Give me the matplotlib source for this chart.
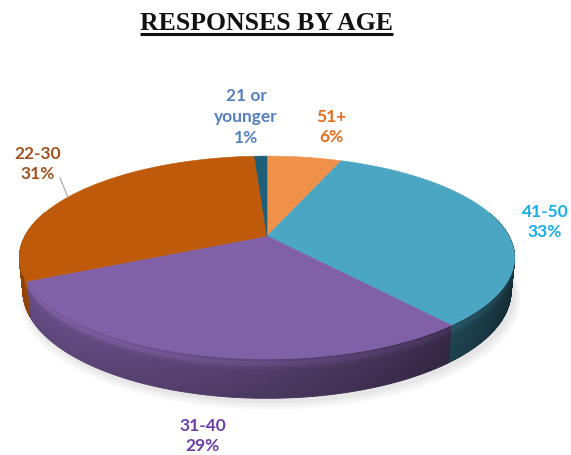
import numpy as np
import matplotlib
matplotlib.use("Agg")
import matplotlib.pyplot as plt
from matplotlib.collections import PolyCollection
from matplotlib.colors import to_rgb

# Survey responses by age group, clockwise from 12 o'clock
ages = ["51+", "41-50", "31-40", "22-30", "21 or\nyounger"]
shares = [6, 33, 29, 31, 1]
top_colors = ["#F0914A", "#4BA6C4", "#8060A6", "#BE5A0A", "#1F5E78"]
label_colors = ["#E46C1E", "#14AEEA", "#6B3FA6", "#A4521C", "#5580C0"]

# label anchor points (pixels)
label_pos = [(331, 127), (545, 222), (203, 436), (38, 164), (246, 117)]

W, H_PX = 571, 456
fig = plt.figure(figsize=(W / 100, H_PX / 100), dpi=100)
ax = fig.add_axes([0, 0, 1, 1])
ax.set_xlim(0, W)
ax.set_ylim(H_PX, 0)
ax.axis("off")

# simple perspective camera for the 3-D disc
CX, CY = 267, 237
K = 242
ELEV = np.radians(23.6)
DIST = 4.32
DEPTH = 0.15


def project(theta, z, r=1.0):
    x = r * np.sin(theta)
    y = r * np.cos(theta)
    sy = y * np.sin(ELEV) + z * np.cos(ELEV)
    d = y * np.cos(ELEV) - z * np.sin(ELEV)
    f = DIST / (DIST + d)
    return CX + K * x * f, CY - K * sy * f


cum = np.concatenate([[0], np.cumsum(shares)])
starts = 2 * np.pi * cum[:-1] / 100
ends = 2 * np.pi * cum[1:] / 100

# soft shadow under the disc
full = np.linspace(0, 2 * np.pi, 200)
for grow in [10, 7, 4, 2]:
    bx, by = project(full, -DEPTH, 1.0 + grow / 400)
    ax.fill(bx + 3, by + 3 + grow * 0.4, color="#888888", alpha=0.05, lw=0)

# outer walls, shaded by facing direction plus a bevel highlight at the rim
light = np.array([-0.8, -0.35])
polys, cols = [], []
zs = np.linspace(0, -DEPTH, 16)
for t0, t1, c in zip(starts, ends, top_colors):
    base = np.array(to_rgb(c))
    n = max(2, int(np.degrees(t1 - t0) / 0.7))
    th = np.linspace(t0, t1, n + 1)
    for a, b in zip(th[:-1], th[1:]):
        m = 0.5 * (a + b)
        if np.cos(m) > 0.25:
            continue
        shade = 0.52 + 0.36 * (np.sin(m) * light[0] + np.cos(m) * light[1])
        for za, zb in zip(zs[:-1], zs[1:]):
            zf = -0.5 * (za + zb) / DEPTH
            vfac = 1.0 + 0.22 * np.exp(-((zf - 0.12) / 0.1) ** 2) - 0.12 * zf
            col = np.clip(base * shade * vfac, 0, 1)
            xa, ya = project(a, za)
            xb, yb = project(b, za)
            xc, yc = project(b, zb)
            xd, yd = project(a, zb)
            polys.append([(xa, ya), (xb, yb), (xc, yc), (xd, yd)])
            cols.append(col)
ax.add_collection(PolyCollection(polys, facecolors=cols, edgecolors=cols, linewidths=0.6))

# top faces
for t0, t1, c in zip(starts, ends, top_colors):
    th = np.linspace(t0, t1, max(3, int(np.degrees(t1 - t0))))
    px, py = project(th, 0.0)
    ax.fill(np.r_[CX, px], np.r_[CY, py], color=c, lw=0.4, ec=c)

# data labels
for name, v, (lx, ly), lc in zip(ages, shares, label_pos, label_colors):
    ax.text(lx, ly, f"{name}\n{v}%", ha="center", va="center", color=lc,
            fontsize=12.5, fontweight="bold", family=["Lato", "DejaVu Sans"],
            linespacing=1.35)

# leader line for the 22-30 label
ex, ey = project(np.radians(296), 0.0)
ax.plot([60, ex], [179, ey], color="#9AA4AE", lw=0.8)

# title with underline
title = ax.text(266, 23, "RESPONSES BY AGE", ha="center", va="center",
                fontsize=18.5, fontweight="bold", family="Liberation Serif",
                color="#111111")
fig.canvas.draw()
bb = title.get_window_extent().transformed(ax.transData.inverted())
ax.plot([bb.x0, bb.x1], [35, 35], color="#111111", lw=2.2, solid_capstyle="butt")

fig.savefig("out.png", dpi=100)
